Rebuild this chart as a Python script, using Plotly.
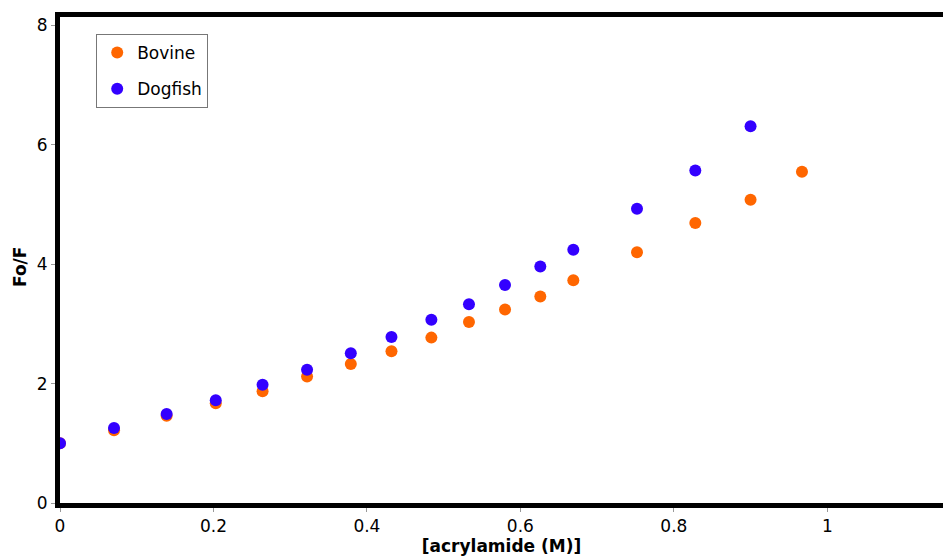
import plotly.graph_objects as go

# Acrylamide quenching data (Stern-Volmer plot)
acrylamide_bovine = [0, 0.0704, 0.139, 0.203, 0.264, 0.322, 0.379, 0.432, 0.484,
                     0.533, 0.580, 0.626, 0.669, 0.752, 0.828, 0.900, 0.967]
fo_f_bovine = [1.00, 1.22, 1.46, 1.67, 1.87, 2.12, 2.33, 2.54, 2.77,
               3.03, 3.24, 3.46, 3.73, 4.20, 4.69, 5.08, 5.55]

acrylamide_dogfish = [0, 0.0704, 0.139, 0.203, 0.264, 0.322, 0.379, 0.432, 0.484,
                      0.533, 0.580, 0.626, 0.669, 0.752, 0.828, 0.900]
fo_f_dogfish = [1.00, 1.255, 1.49, 1.72, 1.98, 2.23, 2.51, 2.78, 3.07,
                3.33, 3.65, 3.96, 4.24, 4.93, 5.57, 6.31]

x_ticks = [0, 0.2, 0.4, 0.6, 0.8, 1]
x_tick_labels = ["0", "0.2", "0.4", "0.6", "0.8", "1"]
y_ticks = [0, 2, 4, 6, 8]
y_tick_labels = ["0", "2", "4", "6", "8"]

FONT = "DejaVu Sans"

fig = go.Figure()
fig.add_trace(go.Scatter(
    x=acrylamide_bovine, y=fo_f_bovine, mode="markers", name="Bovine",
    legendgroup="bovine",
    marker=dict(color="#FF6600", size=12, line=dict(width=0)),
))
fig.add_trace(go.Scatter(
    x=acrylamide_dogfish, y=fo_f_dogfish, mode="markers", name="Dogfish",
    legendgroup="dogfish",
    marker=dict(color="#3300FF", size=12, line=dict(width=0)),
))

fig.update_layout(
    width=943, height=557,
    margin=dict(l=60, r=0, t=17, b=54),
    plot_bgcolor="white", paper_bgcolor="white",
    font=dict(family=FONT, size=17, color="#000000"),
    showlegend=True,
    legend=dict(
        x=0.041, y=0.965, xanchor="left", yanchor="top",
        bgcolor="white", bordercolor="#777777", borderwidth=1,
        font=dict(family=FONT, size=17, color="#000000"),
        tracegroupgap=11, itemsizing="constant",
    ),
    xaxis=dict(
        range=[0, 1.1508],
        tickmode="array", tickvals=x_ticks, ticktext=x_tick_labels,
        showgrid=False, zeroline=False,
        showline=True, linecolor="black", linewidth=5, mirror=True,
        ticks="outside", ticklen=4, tickwidth=1, tickcolor="#999999",
        tickfont=dict(family=FONT, size=17, color="#000000"),
        title=dict(text="<b>[acrylamide (M)]</b>", standoff=2,
                   font=dict(family=FONT, size=17, color="#000000")),
        automargin=False,
    ),
    yaxis=dict(
        range=[0, 8.14],
        tickmode="array", tickvals=y_ticks, ticktext=y_tick_labels,
        showgrid=False, zeroline=False,
        showline=True, linecolor="black", linewidth=5, mirror=False,
        ticks="outside", ticklen=4, tickwidth=1, tickcolor="#999999",
        tickfont=dict(family=FONT, size=17, color="#000000"),
        automargin=False,
    ),
    annotations=[dict(
        text="<b>Fo/F</b>", textangle=-90, showarrow=False,
        xref="paper", yref="paper", x=-0.0453, y=0.4856,
        xanchor="center", yanchor="middle",
        font=dict(family=FONT, size=17, color="#000000"),
    )],
)

fig.write_html("out.html")
